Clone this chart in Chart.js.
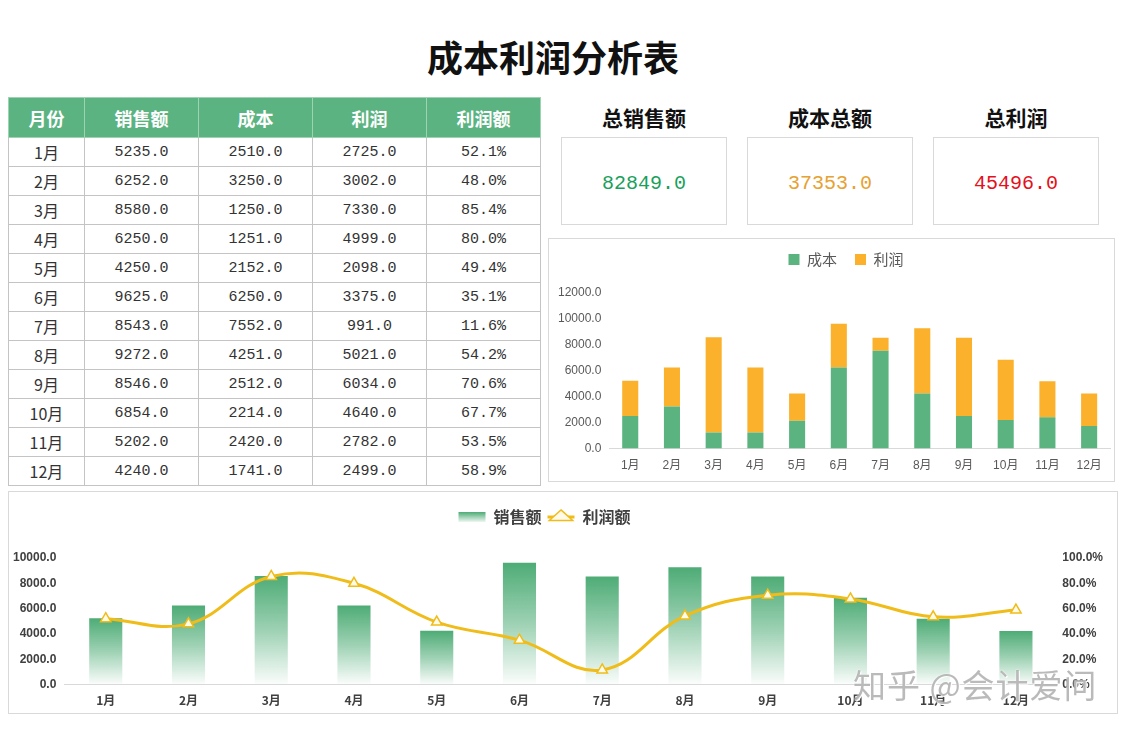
<!DOCTYPE html>
<html lang="zh">
<head>
<meta charset="utf-8">
<title>成本利润分析表</title>
<script src="https://cdn.jsdelivr.net/npm/chart.js@4/dist/chart.umd.min.js"></script>
<style>
  html, body { margin: 0; padding: 0; background: #fff; }
  body { width: 1127px; height: 731px; position: relative; overflow: hidden;
         font-family: "Noto Sans CJK SC", "Liberation Sans", sans-serif; color: #222; }
  #title { position: absolute; left: 0; top: 31px; width: 1106px; text-align: center;
           font-size: 36px; font-weight: bold; line-height: 50px; color: #111; }
  #dataTable { position: absolute; left: 8px; top: 97px; border-collapse: collapse; table-layout: fixed; }
  #dataTable th { background: #5bb381; color: #fff; font-size: 18px; font-weight: bold; height: 39px;
                  border: 1px solid #9fd2b3; padding: 0; text-align: center; }
  #dataTable td { height: 28px; border: 1px solid #c4c4c4; padding: 0; text-align: center;
                  font-family: "Liberation Mono", "DejaVu Sans Mono", monospace; font-size: 15px; color: #333; }
  #dataTable td.m { font-family: "Noto Sans CJK SC", sans-serif; font-size: 16px; }
  .kpiTitle { position: absolute; top: 102px; width: 166px; text-align: center; font-size: 21px;
              font-weight: bold; line-height: 30px; color: #111; }
  .kpiBox { position: absolute; top: 137px; width: 164px; height: 86px; border: 1px solid #d9d9d9;
            text-align: center; line-height: 91px; font-family: "Liberation Mono", "DejaVu Sans Mono", monospace;
            font-size: 20px; }
  .panel { position: absolute; border: 1px solid #d9d9d9; background: #fff; }
  #watermark { position: absolute; left: 853px; top: 660px; font-size: 33px; color: rgba(140,140,140,0.6);
               letter-spacing: 1px; text-shadow: 0 0 2px #fff, 1px 1px 0 #fff; pointer-events: none; }
</style>
</head>
<body>
<div id="title">成本利润分析表</div>

<table id="dataTable">
  <colgroup><col style="width:76px"><col style="width:114px"><col style="width:114px"><col style="width:114px"><col style="width:114px"></colgroup>
  <thead><tr><th>月份</th><th>销售额</th><th>成本</th><th>利润</th><th>利润额</th></tr></thead>
  <tbody id="tableBody"></tbody>
</table>

<div class="kpiTitle" style="left:561px">总销售额</div>
<div class="kpiTitle" style="left:747px">成本总额</div>
<div class="kpiTitle" style="left:933px">总利润</div>
<div class="kpiBox" id="kpiSales" style="left:561px;color:#1a9f5c"></div>
<div class="kpiBox" id="kpiCost" style="left:747px;color:#e6a232"></div>
<div class="kpiBox" id="kpiProfit" style="left:933px;color:#e3111b"></div>

<div class="panel" style="left:548px;top:238px;width:565px;height:242px">
  <canvas id="stackChart" width="565" height="242"></canvas>
</div>

<div class="panel" style="left:8px;top:491px;width:1108px;height:221px">
  <canvas id="comboChart" width="1108" height="221"></canvas>
</div>

<div id="watermark">知乎 @会计爱问</div>

<script>
// gegevens uit de tabel
const months = ['1月', '2月', '3月', '4月', '5月', '6月', '7月', '8月', '9月', '10月', '11月', '12月'];
const sales = [5235, 6252, 8580, 6250, 4250, 9625, 8543, 9272, 8546, 6854, 5202, 4240];
const cost = [2510, 3250, 1250, 1251, 2152, 6250, 7552, 4251, 2512, 2214, 2420, 1741];
const profit = [2725, 3002, 7330, 4999, 2098, 3375, 991, 5021, 6034, 4640, 2782, 2499];
const profitRate = [52.1, 48.0, 85.4, 80.0, 49.4, 35.1, 11.6, 54.2, 70.6, 67.7, 53.5, 58.9];

const GREEN = '#5bb37f';
const ORANGE = '#fbb12b';
const GOLD = '#f0bc1a';

// tabel vullen
const tbody = document.getElementById('tableBody');
months.forEach((m, i) => {
    const tr = document.createElement('tr');
    const cells = [m, sales[i].toFixed(1), cost[i].toFixed(1), profit[i].toFixed(1), profitRate[i].toFixed(1) + '%'];
    cells.forEach((txt, c) => {
        const td = document.createElement('td');
        if (c === 0) td.className = 'm';
        td.textContent = txt;
        tr.appendChild(td);
    });
    tbody.appendChild(tr);
});

const sum = arr => arr.reduce((a, b) => a + b, 0);
document.getElementById('kpiSales').textContent = sum(sales).toFixed(1);
document.getElementById('kpiCost').textContent = sum(cost).toFixed(1);
document.getElementById('kpiProfit').textContent = sum(profit).toFixed(1);

Chart.defaults.font.family = '"Liberation Sans", "Noto Sans CJK SC", sans-serif';
Chart.defaults.animation = false;

// extra ruimte onder de legenda, en legenda iets opzij schuiven
const legendGap = (extra, dx) => ({
    id: 'legendGap',
    beforeInit(chart) {
        const fit = chart.legend.fit;
        chart.legend.fit = function () {
            fit.call(this);
            this.height += extra;
        };
    },
    afterLayout(chart) {
        chart.legend.left += dx;
        chart.legend.right += dx;
    }
});

// gestapelde kolommen: kosten + winst
new Chart(document.getElementById('stackChart'), {
    type: 'bar',
    data: {
        labels: months,
        datasets: [
            { label: '成本', data: cost, backgroundColor: GREEN, barPercentage: 0.385, categoryPercentage: 1 },
            { label: '利润', data: profit, backgroundColor: ORANGE, barPercentage: 0.385, categoryPercentage: 1 }
        ]
    },
    options: {
        responsive: false,
        layout: { padding: { left: 1, right: 4, top: -5, bottom: -2 } },
        plugins: {
            legend: {
                position: 'top',
                labels: { boxWidth: 11, boxHeight: 11, padding: 18, color: '#595959',
                          font: { size: 15, family: '"Noto Sans CJK SC", sans-serif' } }
            },
            tooltip: { enabled: false }
        },
        scales: {
            x: {
                stacked: true,
                grid: { display: false, drawTicks: false },
                border: { display: true, color: '#d9d9d9' },
                ticks: { color: '#595959', font: { size: 12 }, padding: 10 }
            },
            y: {
                stacked: true, min: 0, max: 12000,
                grid: { display: false, drawTicks: false },
                border: { display: false },
                ticks: { stepSize: 2000, color: '#595959', font: { size: 12 }, padding: 8,
                         callback: v => v.toFixed(1) }
            }
        }
    },
    plugins: [legendGap(16, 16)]
});

// verloop per kolom: groen bovenaan naar wit onderaan
function salesGradient(context) {
    const chart = context.chart;
    const yScale = chart.scales.y;
    if (context.type !== 'data' || !yScale) return GREEN;
    const top = yScale.getPixelForValue(context.raw);
    const bottom = yScale.getPixelForValue(0);
    if (!isFinite(top) || !isFinite(bottom) || top === bottom) return GREEN;
    const g = chart.ctx.createLinearGradient(0, top, 0, bottom);
    g.addColorStop(0, 'rgba(78,172,118,1)');
    g.addColorStop(0.5, 'rgba(78,172,118,0.55)');
    g.addColorStop(1, 'rgba(78,172,118,0.02)');
    return g;
}

// legendasymbolen zoals in Excel (verloop-blokje, lijn achter driehoek)
const legendDecor = {
    id: 'legendDecor',
    beforeDraw(chart) {
        const legend = chart.legend;
        if (!legend || !legend.legendHitBoxes || legend.legendHitBoxes.length < 2) return;
        const ctx = chart.ctx;
        const w = legend.options.labels.pointStyleWidth;
        const half = legend.options.labels.font.size / 2;
        const b0 = legend.legendHitBoxes[0];
        const g = ctx.createLinearGradient(0, b0.top + half - 5, 0, b0.top + half + 5);
        g.addColorStop(0, 'rgba(78,172,118,1)');
        g.addColorStop(1, 'rgba(78,172,118,0.1)');
        legend.legendItems[0].fillStyle = g;
        const b1 = legend.legendHitBoxes[1];
        ctx.save();
        ctx.strokeStyle = GOLD;
        ctx.lineWidth = 3;
        ctx.beginPath();
        ctx.moveTo(b1.left, b1.top + half);
        ctx.lineTo(b1.left + w, b1.top + half);
        ctx.stroke();
        ctx.restore();
    }
};

new Chart(document.getElementById('comboChart'), {
    data: {
        labels: months,
        datasets: [
            { type: 'bar', label: '销售额', data: sales, yAxisID: 'y', order: 1,
              backgroundColor: salesGradient, barPercentage: 0.4, categoryPercentage: 1 },
            { type: 'line', label: '利润额', data: profitRate, yAxisID: 'y1', order: 0,
              borderColor: GOLD, borderWidth: 3, tension: 0.4,
              pointStyle: 'triangle', pointRadius: 6, pointBorderWidth: 1.5,
              pointBackgroundColor: '#fffbe8', pointBorderColor: GOLD }
        ]
    },
    options: {
        responsive: false,
        layout: { padding: { left: -4, right: 9, top: 11, bottom: -4 } },
        plugins: {
            legend: {
                position: 'top',
                labels: {
                    usePointStyle: true, pointStyleWidth: 27, boxHeight: 10, padding: 6,
                    color: '#404040', font: { size: 16, weight: 'bold', family: '"Noto Sans CJK SC", sans-serif' },
                    generateLabels: chart => chart.data.datasets.map((ds, i) => ({
                        text: ds.label,
                        datasetIndex: i,
                        pointStyle: ds.type === 'bar' ? 'rect' : 'triangle',
                        fillStyle: ds.type === 'bar' ? GREEN : '#fffbe8',
                        strokeStyle: ds.type === 'bar' ? 'rgba(0,0,0,0)' : GOLD,
                        lineWidth: ds.type === 'bar' ? 0 : 1.5,
                        fontColor: '#404040',
                        hidden: false
                    }))
                }
            },
            tooltip: { enabled: false }
        },
        scales: {
            x: {
                grid: { display: false, drawTicks: false },
                border: { display: true, color: '#d9d9d9' },
                ticks: { color: '#404040', padding: 9,
                         font: { size: 12, weight: 'bold', family: '"Noto Sans CJK SC", sans-serif' } }
            },
            y: {
                position: 'left', min: 0, max: 10000,
                grid: { display: false, drawTicks: false },
                border: { display: false },
                ticks: { stepSize: 2000, color: '#404040', font: { size: 12, weight: 'bold' }, padding: 8,
                         callback: v => v.toFixed(1) }
            },
            y1: {
                position: 'right', min: 0, max: 100,
                grid: { display: false, drawTicks: false },
                border: { display: false },
                ticks: { stepSize: 20, color: '#404040', font: { size: 12, weight: 'bold' }, padding: 5,
                         callback: v => v.toFixed(1) + '%' }
            }
        }
    },
    plugins: [legendDecor, legendGap(23, -12)]
});
</script>
</body>
</html>
